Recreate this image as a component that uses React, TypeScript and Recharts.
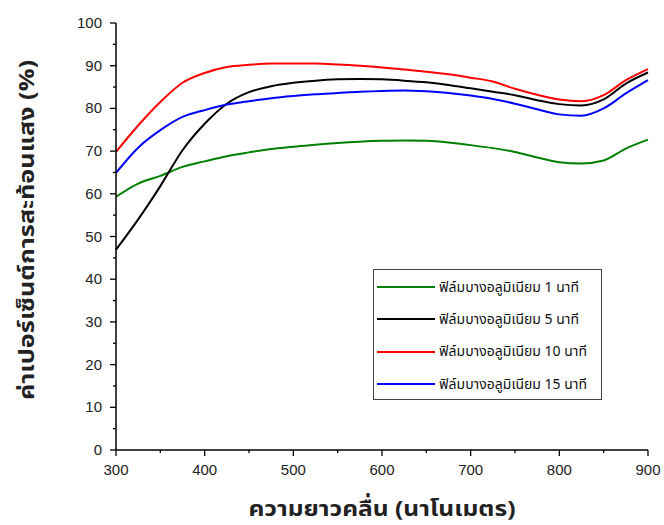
import React from 'react';
import { LineChart, Line, XAxis, YAxis, Legend, Label } from 'recharts';

const wavelengths = [
  300, 325, 350, 375, 400, 425, 450, 475, 500, 525, 550, 575, 600,
  625, 650, 675, 700, 725, 750, 775, 800, 825, 850, 875, 900,
];
const film1 = [
  59.3, 62.4, 64.2, 66.3, 67.6, 68.8, 69.7, 70.5, 71.0, 71.5, 71.9, 72.2, 72.4,
  72.5, 72.4, 72.0, 71.4, 70.7, 69.8, 68.5, 67.4, 67.1, 67.8, 70.6, 72.7,
];
const film5 = [
  46.9, 54.0, 61.8, 70.2, 76.4, 81.1, 83.8, 85.2, 86.0, 86.5, 86.8, 86.9, 86.8,
  86.5, 86.1, 85.5, 84.7, 83.9, 83.1, 81.9, 81.0, 80.7, 82.1, 85.8, 88.4,
];
const film10 = [
  69.8, 76.0, 81.5, 86.0, 88.3, 89.7, 90.2, 90.5, 90.5, 90.5, 90.3, 90.0, 89.6,
  89.1, 88.6, 88.0, 87.2, 86.3, 84.6, 83.2, 82.1, 81.7, 83.1, 86.6, 89.2,
];
const film15 = [
  64.9, 70.8, 74.9, 78.0, 79.6, 80.9, 81.7, 82.4, 82.9, 83.3, 83.6, 83.9, 84.1,
  84.2, 84.0, 83.6, 83.0, 82.2, 81.1, 79.8, 78.6, 78.3, 80.0, 83.5, 86.6,
];

const seriesNames = [
  'ฟิล์มบางอลูมิเนียม 1 นาที',
  'ฟิล์มบางอลูมิเนียม 5 นาที',
  'ฟิล์มบางอลูมิเนียม 10 นาที',
  'ฟิล์มบางอลูมิเนียม 15 นาที',
];
const xTicks = [300, 350, 400, 450, 500, 550, 600, 650, 700, 750, 800, 850, 900];
const yTicks = [0, 5, 10, 15, 20, 25, 30, 35, 40, 45, 50, 55, 60, 65, 70, 75, 80, 85, 90, 95, 100];

const data = wavelengths.map((w, i) => ({
  w,
  s1: film1[i],
  s5: film5[i],
  s10: film10[i],
  s15: film15[i],
}));

const tickFont = "'Liberation Sans', Arial, sans-serif";
const thaiFont = "Tahoma, 'Noto Sans Thai', 'Noto Sans', 'DejaVu Sans', sans-serif";

const XTick = (props: any) => {
  const { x, y, payload } = props;
  const major = payload.value % 100 === 0;
  return (
    <g>
      <line x1={x} x2={x} y1={y} y2={y + (major ? 6 : 3)} stroke="#000" strokeWidth={1.3} />
      {major && (
        <text x={x} y={y} dy={25} textAnchor="middle" fontSize={15} fill="#222" fontFamily={tickFont}>
          {payload.value}
        </text>
      )}
    </g>
  );
};

const YTick = (props: any) => {
  const { x, y, payload } = props;
  const major = payload.value % 10 === 0;
  return (
    <g>
      <line x1={x} x2={x - (major ? 6 : 3)} y1={y} y2={y} stroke="#000" strokeWidth={1.3} />
      {major && (
        <text x={x - 14} y={y} dy={5} textAnchor="end" fontSize={15} fill="#222" fontFamily={tickFont}>
          {payload.value}
        </text>
      )}
    </g>
  );
};

const renderLegend = (props: any) => {
  const items = [...props.payload].sort(
    (a: any, b: any) => seriesNames.indexOf(a.value) - seriesNames.indexOf(b.value),
  );
  return (
    <div
      style={{
        border: '1px solid #444',
        background: '#fff',
        width: 229,
        height: 131,
        boxSizing: 'border-box',
        padding: '1px 0 0 3px',
      }}
    >
      {items.map((entry: any) => (
        <div key={entry.value} style={{ display: 'flex', alignItems: 'center', height: 32.3 }}>
          <svg width={58} height={6}>
            <line x1={0} x2={58} y1={3} y2={3} stroke={entry.color} strokeWidth={2} />
          </svg>
          <span style={{ fontFamily: thaiFont, fontSize: 14, color: '#111', marginLeft: 4 }}>{entry.value}</span>
        </div>
      ))}
    </div>
  );
};

export default function App() {
  return (
    <div style={{ position: 'absolute', left: 0, top: 0, background: '#fff' }}>
      <LineChart width={664} height={525} data={data} margin={{ top: 23, right: 16, left: 0, bottom: 0 }}>
        <XAxis
          dataKey="w"
          type="number"
          domain={[300, 900]}
          ticks={xTicks}
          interval={0}
          height={75}
          tickSize={0}
          tickMargin={0}
          tick={<XTick />}
          axisLine={{ stroke: '#000', strokeWidth: 1.5 }}
        >
          <Label
            content={(p: any) => {
              const vb = p.viewBox;
              return (
                <text
                  x={vb.x + vb.width / 2}
                  y={vb.y + 66}
                  textAnchor="middle"
                  fontSize={22}
                  fontWeight="bold"
                  fill="#222"
                  fontFamily={thaiFont}
                  textLength={267}
                  lengthAdjust="spacingAndGlyphs"
                >
                  ความยาวคลื่น (นาโนเมตร)
                </text>
              );
            }}
          />
        </XAxis>
        <YAxis
          type="number"
          domain={[0, 100]}
          ticks={yTicks}
          interval={0}
          width={116}
          tickSize={0}
          tickMargin={0}
          tick={<YTick />}
          axisLine={{ stroke: '#000', strokeWidth: 1.5 }}
        >
          <Label
            content={(p: any) => {
              const vb = p.viewBox;
              const cx = vb.x + 27;
              const cy = 230;
              return (
                <text
                  x={cx}
                  y={cy}
                  transform={`rotate(-90 ${cx} ${cy})`}
                  textAnchor="middle"
                  dominantBaseline="central"
                  fontSize={22}
                  fontWeight="bold"
                  fill="#222"
                  fontFamily={thaiFont}
                  textLength={340}
                  lengthAdjust="spacingAndGlyphs"
                >
                  ค่าเปอร์เซ็นต์การสะท้อนแสง (%)
                </text>
              );
            }}
          />
        </YAxis>
        <Legend
          layout="vertical"
          align="center"
          verticalAlign="middle"
          content={renderLegend}
          wrapperStyle={{ left: 373, top: 269, width: 229 }}
        />
        <Line type="monotone" dataKey="s1" name={seriesNames[0]} stroke="#008000" strokeWidth={2} dot={false} isAnimationActive={false} />
        <Line type="monotone" dataKey="s5" name={seriesNames[1]} stroke="#000000" strokeWidth={2} dot={false} isAnimationActive={false} />
        <Line type="monotone" dataKey="s10" name={seriesNames[2]} stroke="#ff0000" strokeWidth={2} dot={false} isAnimationActive={false} />
        <Line type="monotone" dataKey="s15" name={seriesNames[3]} stroke="#0000ff" strokeWidth={2} dot={false} isAnimationActive={false} />
      </LineChart>
    </div>
  );
}
